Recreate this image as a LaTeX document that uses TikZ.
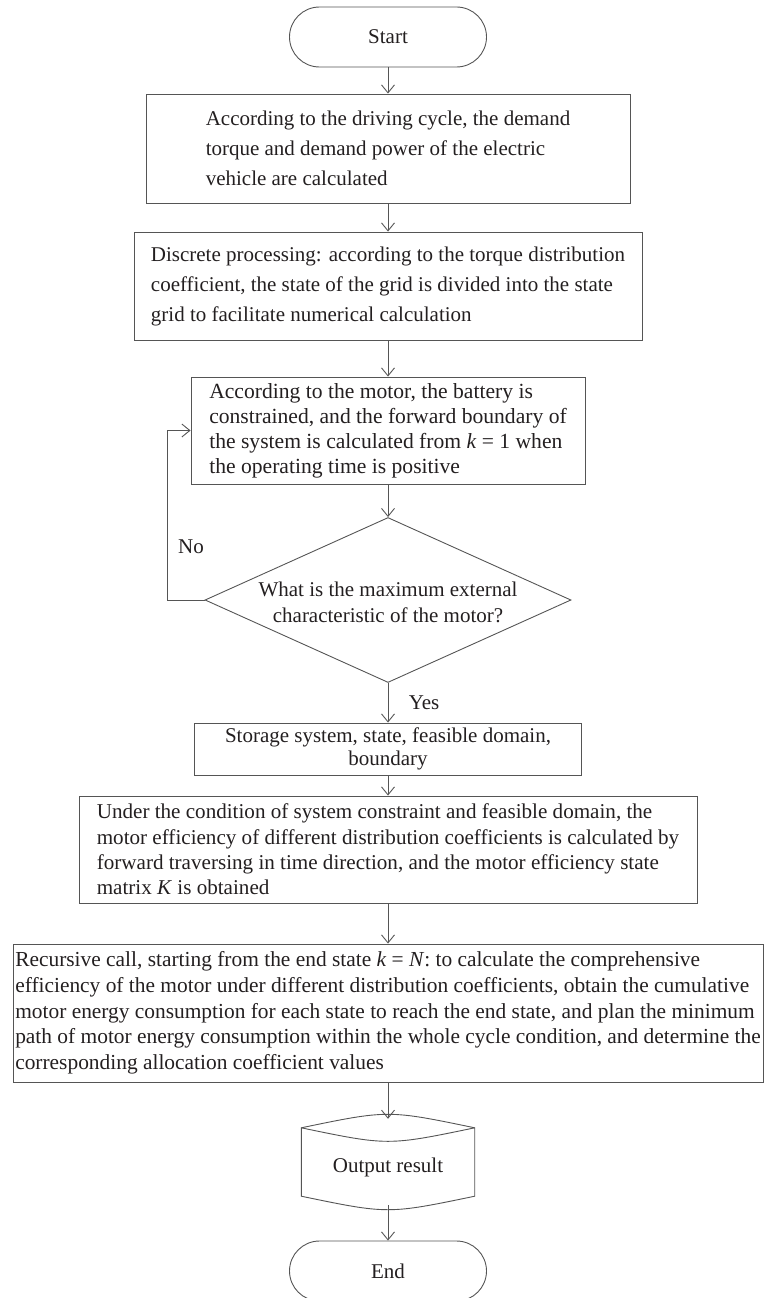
\documentclass[tikz,border=0pt]{standalone}
\usepackage{fontspec}
\setmainfont{Liberation Serif}
\usepackage{xcolor}
\usepackage{tikz}
\usetikzlibrary{arrows.meta,positioning,calc,shapes.geometric}

\definecolor{inkgray}{HTML}{231F20}
\definecolor{linegray}{HTML}{555555}

\begin{document}
\begin{tikzpicture}[
  x=1pt, y=1pt,
  font=\fontsize{21}{30}\selectfont, text=inkgray,
  termcell/.style={draw=linegray, line width=0.9pt, rounded corners=30pt, minimum width=197pt, minimum height=60pt, align=center},
  stepcell/.style={draw=linegray, line width=0.9pt, inner sep=0pt, align=left},
  decisioncell/.style={draw=linegray, line width=0.9pt, diamond, inner sep=0pt, minimum width=366pt, minimum height=165pt},
  outcell/.style={inner sep=0pt, minimum width=173pt, minimum height=86pt},
  lab/.style={font=\fontsize{21}{25}\selectfont},
  arr/.style={draw=linegray, line width=0.9pt, -{Straight Barb[length=8pt,width=13pt]}}
]
\useasboundingbox (0,0) rectangle (764,-1298);

\node[termcell] (start) at (388,-37) {Start};

\node[stepcell, minimum width=484pt, minimum height=109pt] (drive) at (388,-148.5)
  {According to the driving cycle, the demand\\torque and demand power of the electric\\vehicle are calculated};
\node[stepcell, minimum width=508pt, minimum height=108pt] (grid) at (388,-286)
  {Discrete processing: according to the torque distribution\\coefficient, the state of the grid is divided into the state\\grid to facilitate numerical calculation};
\node[stepcell, minimum width=394pt, minimum height=107pt, font=\fontsize{21.6}{25}\selectfont] (bound) at (388,-430.5)
  {According to the motor, the battery is\\constrained, and the forward boundary of\\the system is calculated from \textit{k} = 1 when\\the operating time is positive};

\node[decisioncell] (dec) at (388,-600) {};
\node[align=center, font=\fontsize{21}{26}\selectfont] (dectext) at (388,-602)
  {What is the maximum external\\characteristic of the motor?};

\node[stepcell, minimum width=387pt, minimum height=52pt, align=center, font=\fontsize{21}{22.7}\selectfont] (store) at (388,-749)
  {Storage system, state, feasible domain,\\boundary};
\node[stepcell, minimum width=618pt, minimum height=107pt, font=\fontsize{21.1}{25.3}\selectfont] (eff) at (388,-849.5)
  {Under the condition of system constraint and feasible domain, the\\motor efficiency of different distribution coefficients is calculated by\\forward traversing in time direction, and the motor efficiency state\\matrix \textit{K} is obtained};
\node[stepcell, minimum width=750pt, minimum height=138pt, font=\fontsize{21.4}{25.7}\selectfont] (rec) at (388,-1013)
  {Recursive call, starting from the end state \textit{k} = \textit{N}: to calculate the comprehensive\\efficiency of the motor under different distribution coefficients, obtain the cumulative\\motor energy consumption for each state to reach the end state, and plan the minimum\\path of motor energy consumption within the whole cycle condition, and determine the\\corresponding allocation coefficient values};

% output symbol
\node[outcell] (out) at (388,-1162) {};
\node (outtext) at ([yshift=-5pt]out.center) {Output result};
\draw[draw=linegray, line width=0.9pt] ([yshift=-9pt]out.north west) .. controls ([yshift=9pt]out.north) .. ([yshift=-9pt]out.north east)
  -- ([yshift=9pt]out.south east) .. controls ([yshift=-9pt]out.south) .. ([yshift=9pt]out.south west) -- cycle;
\draw[draw=linegray, line width=0.9pt] ([yshift=-9pt]out.north west) .. controls ([yshift=-27pt]out.north) .. ([yshift=-9pt]out.north east);

\node[termcell] (end) at (388,-1271) {End};

% connectors
\draw[arr] (start) -- (drive);
\draw[arr] (drive) -- (grid);
\draw[arr] (grid) -- (bound);
\draw[arr] (bound) -- (dec);
\draw[arr] (dec) -- node[lab, right=17pt] {Yes} (store);
\draw[arr] (store) -- (eff);
\draw[arr] (eff) -- (rec);
\draw[arr] (rec) -- (out.north);
\draw[arr] (out.south) -- (end);
\draw[arr] (dec.west) -- ++(-37,0) coordinate (loop) |- (bound.west);
\node[lab] (no) at (191,-547) {No};
\end{tikzpicture}
\end{document}
